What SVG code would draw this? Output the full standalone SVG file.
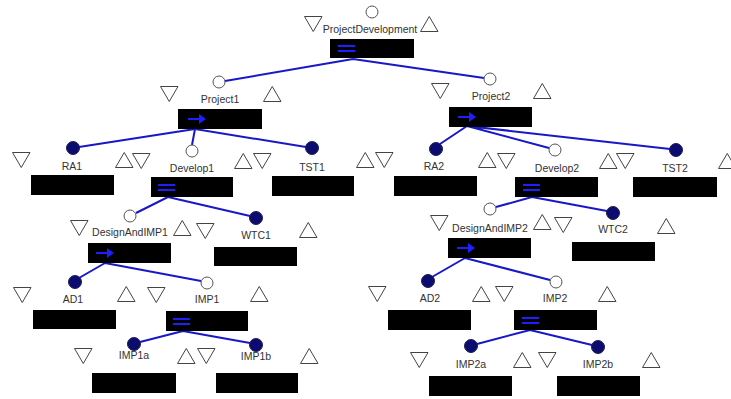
<svg xmlns="http://www.w3.org/2000/svg" xmlns:xlink="http://www.w3.org/1999/xlink" width="731" height="399" viewBox="0 0 731 399">
  <style>
    .lbl { font-family: "Liberation Sans", Arial, sans-serif; font-size: 10.5px; fill: #333; text-anchor: middle; }
    .box { fill: #000; }
    .open { fill: #fff; stroke: #555; stroke-width: 1; }
    .full { fill: #0c0c70; stroke: #202050; stroke-width: 1; }
    .tri { fill: #fff; stroke: #444; stroke-width: 1; }
    .edge { stroke: #1818c8; stroke-width: 2; fill: none; }
    .op { stroke: #1e1eff; stroke-width: 2; fill: none; }
  </style>
  <defs>
    <path id="tdown" class="tri" d="M0.5,0.5 H18 L9.25,15.5 Z"/>
    <path id="tup" class="tri" d="M9.25,0.5 L18,15.5 H0.5 Z"/>
    <!-- operator icons drawn inside the black boxes -->
    <g id="opEq"><path class="op" d="M0,-2 H17 M0,3 H17"/></g>
    <g id="opSeq"><path class="op" d="M0,0 H15"/><path d="M11,-5 L18,0 L11,5 Z" fill="#1e1eff"/></g>
  </defs>

  <rect width="731" height="399" fill="#fff"/>

  <g id="connectors">
    <path class="edge" d="M353,59 L225,81 M353,59 L484,78"/>
    <path class="edge" d="M195,129 L79,147 M195,129 L192,145 M195,129 L306,147"/>
    <path class="edge" d="M467,126 L440,144 M467,126 L549,148 M467,126 L670,149"/>
    <path class="edge" d="M168,197 L136,213 M168,197 L250,216"/>
    <path class="edge" d="M532,197 L496,207 M532,197 L607,211"/>
    <path class="edge" d="M105,263 L79,278 M105,263 L201,281"/>
    <path class="edge" d="M465,258 L432,277 M465,258 L550,280"/>
    <path class="edge" d="M183,331 L140,342 M183,331 L250,343"/>
    <path class="edge" d="M530,330 L477,344 M530,330 L592,345"/>
  </g>

  <g id="ProjectDevelopment">
    <circle class="open" cx="372" cy="12" r="6"/>
    <use xlink:href="#tdown" x="304" y="16"/>
    <text class="lbl" x="370" y="33">ProjectDevelopment</text>
    <use xlink:href="#tup" x="420" y="16"/>
    <rect class="box" x="330" y="39" width="84" height="19"/>
    <use xlink:href="#opEq" x="338" y="48"/>
  </g>

  <g id="Project1">
    <circle class="open" cx="219" cy="82" r="6"/>
    <use xlink:href="#tdown" x="160" y="86"/>
    <text class="lbl" x="220" y="103">Project1</text>
    <use xlink:href="#tup" x="263" y="86"/>
    <rect class="box" x="178" y="109" width="84" height="20"/>
    <use xlink:href="#opSeq" x="188" y="119"/>
  </g>

  <g id="Project2">
    <circle class="open" cx="490" cy="79" r="6"/>
    <use xlink:href="#tdown" x="431" y="83"/>
    <text class="lbl" x="491" y="100">Project2</text>
    <use xlink:href="#tup" x="533" y="83"/>
    <rect class="box" x="449" y="107" width="83" height="20"/>
    <use xlink:href="#opSeq" x="458" y="117"/>
  </g>

  <g id="RA1">
    <circle class="full" cx="73" cy="148" r="6.5"/>
    <use xlink:href="#tdown" x="12" y="152"/>
    <text class="lbl" x="72" y="170">RA1</text>
    <use xlink:href="#tup" x="115" y="152"/>
    <rect class="box" x="31" y="175" width="83" height="20"/>
  </g>

  <g id="Develop1">
    <circle class="open" cx="192" cy="151" r="6"/>
    <use xlink:href="#tdown" x="132" y="153"/>
    <text class="lbl" x="192" y="172">Develop1</text>
    <use xlink:href="#tup" x="234" y="153"/>
    <rect class="box" x="151" y="177" width="82" height="20"/>
    <use xlink:href="#opEq" x="158" y="187"/>
  </g>

  <g id="TST1">
    <circle class="full" cx="312" cy="148" r="6.5"/>
    <use xlink:href="#tdown" x="253" y="153"/>
    <text class="lbl" x="312" y="171">TST1</text>
    <use xlink:href="#tup" x="356" y="152"/>
    <rect class="box" x="272" y="176" width="82" height="20"/>
  </g>

  <g id="RA2">
    <circle class="full" cx="436" cy="149" r="6.5"/>
    <use xlink:href="#tdown" x="375" y="152"/>
    <text class="lbl" x="434" y="170">RA2</text>
    <use xlink:href="#tup" x="478" y="152"/>
    <rect class="box" x="394" y="176" width="83" height="20"/>
  </g>

  <g id="Develop2">
    <circle class="open" cx="555" cy="150" r="6"/>
    <use xlink:href="#tdown" x="497" y="153"/>
    <text class="lbl" x="557" y="172">Develop2</text>
    <use xlink:href="#tup" x="599" y="153"/>
    <rect class="box" x="515" y="177" width="83" height="20"/>
    <use xlink:href="#opEq" x="523" y="187"/>
  </g>

  <g id="TST2">
    <circle class="full" cx="676" cy="150" r="6.5"/>
    <use xlink:href="#tdown" x="616" y="153"/>
    <text class="lbl" x="675" y="172">TST2</text>
    <use xlink:href="#tup" x="718" y="153"/>
    <rect class="box" x="633" y="177" width="84" height="20"/>
  </g>

  <g id="DesignAndIMP1">
    <circle class="open" cx="130" cy="216" r="6"/>
    <use xlink:href="#tdown" x="70" y="220"/>
    <text class="lbl" x="130" y="236">DesignAndIMP1</text>
    <use xlink:href="#tup" x="173" y="220"/>
    <rect class="box" x="88" y="243" width="83" height="20"/>
    <use xlink:href="#opSeq" x="96" y="253"/>
  </g>

  <g id="WTC1">
    <circle class="full" cx="256" cy="218" r="6.5"/>
    <use xlink:href="#tdown" x="196" y="223"/>
    <text class="lbl" x="256" y="239">WTC1</text>
    <use xlink:href="#tup" x="299" y="222"/>
    <rect class="box" x="214" y="247" width="83" height="19"/>
  </g>

  <g id="DesignAndIMP2">
    <circle class="open" cx="490" cy="209" r="6"/>
    <use xlink:href="#tdown" x="430" y="215"/>
    <text class="lbl" x="490" y="232">DesignAndIMP2</text>
    <use xlink:href="#tup" x="533" y="214"/>
    <rect class="box" x="448" y="238" width="83" height="20"/>
    <use xlink:href="#opSeq" x="457" y="248"/>
  </g>

  <g id="WTC2">
    <circle class="full" cx="613" cy="213" r="6.5"/>
    <use xlink:href="#tdown" x="554" y="217"/>
    <text class="lbl" x="613" y="233">WTC2</text>
    <use xlink:href="#tup" x="657" y="218"/>
    <rect class="box" x="572" y="242" width="83" height="19"/>
  </g>

  <g id="AD1">
    <circle class="full" cx="75" cy="282" r="6.5"/>
    <use xlink:href="#tdown" x="13" y="287"/>
    <text class="lbl" x="73" y="303">AD1</text>
    <use xlink:href="#tup" x="117" y="286"/>
    <rect class="box" x="33" y="310" width="83" height="19"/>
  </g>

  <g id="IMP1">
    <circle class="open" cx="207" cy="283" r="6"/>
    <use xlink:href="#tdown" x="147" y="287"/>
    <text class="lbl" x="207" y="303">IMP1</text>
    <use xlink:href="#tup" x="250" y="286"/>
    <rect class="box" x="166" y="311" width="82" height="20"/>
    <use xlink:href="#opEq" x="173" y="321"/>
  </g>

  <g id="AD2">
    <circle class="full" cx="428" cy="281" r="6.5"/>
    <use xlink:href="#tdown" x="368" y="286"/>
    <text class="lbl" x="430" y="302">AD2</text>
    <use xlink:href="#tup" x="472" y="286"/>
    <rect class="box" x="388" y="310" width="83" height="20"/>
  </g>

  <g id="IMP2">
    <circle class="open" cx="556" cy="282" r="6"/>
    <use xlink:href="#tdown" x="495" y="286"/>
    <text class="lbl" x="555" y="302">IMP2</text>
    <use xlink:href="#tup" x="598" y="286"/>
    <rect class="box" x="514" y="310" width="83" height="20"/>
    <use xlink:href="#opEq" x="522" y="320"/>
  </g>

  <g id="IMP1a">
    <circle class="full" cx="134" cy="344" r="6.5"/>
    <use xlink:href="#tdown" x="74" y="348"/>
    <text class="lbl" x="134" y="359">IMP1a</text>
    <use xlink:href="#tup" x="177" y="348"/>
    <rect class="box" x="92" y="373" width="84" height="20"/>
  </g>

  <g id="IMP1b">
    <circle class="full" cx="256" cy="345" r="6.5"/>
    <use xlink:href="#tdown" x="197" y="348"/>
    <text class="lbl" x="256" y="360">IMP1b</text>
    <use xlink:href="#tup" x="300" y="348"/>
    <rect class="box" x="216" y="373" width="82" height="20"/>
  </g>

  <g id="IMP2a">
    <circle class="full" cx="471" cy="346" r="6.5"/>
    <use xlink:href="#tdown" x="410" y="352"/>
    <text class="lbl" x="471" y="368">IMP2a</text>
    <use xlink:href="#tup" x="513" y="352"/>
    <rect class="box" x="429" y="376" width="83" height="20"/>
  </g>

  <g id="IMP2b">
    <circle class="full" cx="598" cy="347" r="6.5"/>
    <use xlink:href="#tdown" x="538" y="352"/>
    <text class="lbl" x="598" y="368">IMP2b</text>
    <use xlink:href="#tup" x="642" y="352"/>
    <rect class="box" x="557" y="376" width="83" height="20"/>
  </g>
</svg>
